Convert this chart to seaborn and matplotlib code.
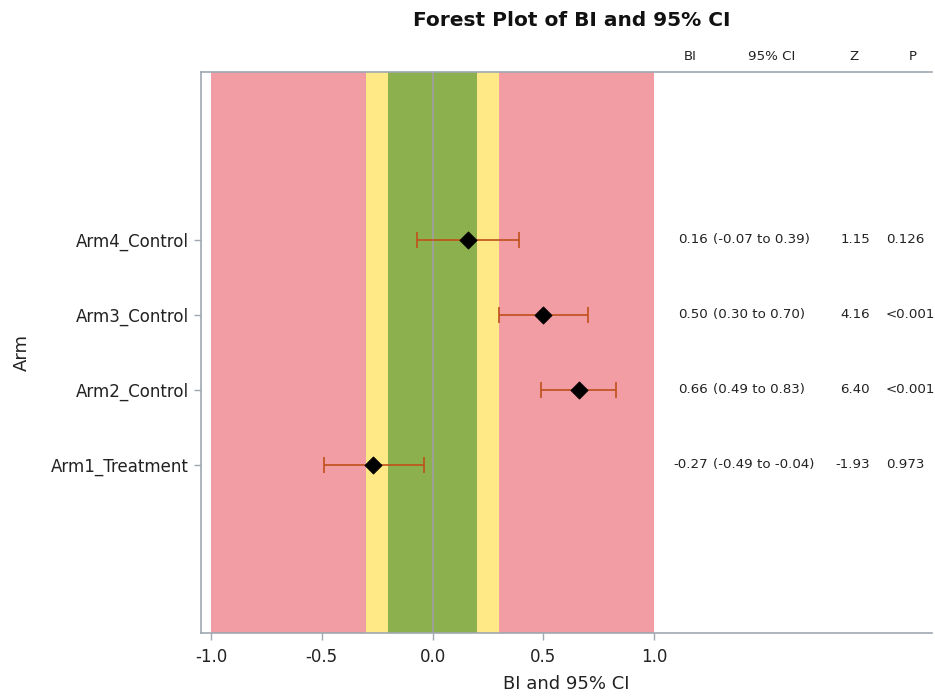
import matplotlib
matplotlib.use("Agg")
import matplotlib.pyplot as plt
import seaborn as sns
import pandas as pd

arms = ["Arm1_Treatment", "Arm2_Control", "Arm3_Control", "Arm4_Control"]
bi = [-0.27, 0.66, 0.50, 0.16]
ci_low = [-0.49, 0.49, 0.30, -0.07]
ci_high = [-0.04, 0.83, 0.70, 0.39]
z_vals = [-1.93, 6.40, 4.16, 1.15]
p_vals = ["0.973", "<0.001", "<0.001", "0.126"]
x_ticks = [-1.0, -0.5, 0.0, 0.5, 1.0]
headers = ["BI", "95% CI", "Z", "P"]

sns.set_style("white")
plt.rcParams['font.family'] = ['DejaVu Sans']

df = pd.DataFrame({"Arm": arms, "BI": bi, "lo": ci_low, "hi": ci_high,
                   "Z": z_vals, "P": p_vals})
df["ypos"] = range(1, len(arms) + 1)

fig = plt.figure(figsize=(9.35, 6.97), dpi=100)
ax = fig.add_axes([0.215, 0.0918, 0.782, 0.805])

# background bands
ax.axvspan(-1.0, 1.0, color="#F29CA4", lw=0, zorder=0)
ax.axvspan(-0.3, 0.3, color="#FFE987", lw=0, zorder=0.5)
ax.axvspan(-0.2, 0.2, color="#8BB04D", lw=0, zorder=0.6)
ax.axvline(0, color="#A0A0A0", lw=1.3, zorder=1)

ax.errorbar(df["BI"], df["ypos"],
            xerr=[df["BI"] - df["lo"], df["hi"] - df["BI"]],
            fmt="none", ecolor="#C0501A", elinewidth=1.2, capsize=5.5,
            capthick=1.2, zorder=2)
sns.scatterplot(data=df, x="BI", y="ypos", marker="D", color="black",
                s=75, edgecolor="black", ax=ax, zorder=3)

# statistics columns
fs = 9.6
tc = "#222222"
for _, r in df.iterrows():
    ax.text(1.244, r["ypos"], f"{r['BI']:.2f}", ha="right", va="center", fontsize=fs, color=tc)
    ax.text(1.266, r["ypos"], f"({r['lo']:.2f} to {r['hi']:.2f})", ha="left", va="center", fontsize=fs, color=tc)
    ax.text(1.975, r["ypos"], f"{r['Z']:.2f}", ha="right", va="center", fontsize=fs, color=tc)
    ax.text(2.047, r["ypos"], r["P"], ha="left", va="center", fontsize=fs, color=tc)

trans = ax.get_xaxis_transform()
for hx, h in zip([1.163, 1.532, 1.903, 2.165], headers):
    ax.text(hx, 1.027, h, ha="center", va="center", fontsize=fs, color=tc,
            transform=trans, clip_on=False)

ax.set_xlim(-1.045, 2.255)
ax.set_ylim(-1.24, 6.24)
ax.set_xticks(x_ticks)
ax.set_xticklabels([f"{v:.1f}" for v in x_ticks], fontsize=12, color=tc)
ax.set_yticks(df["ypos"])
ax.set_yticklabels(df["Arm"], fontsize=12, color=tc)
ax.tick_params(axis="both", direction="out", length=5, width=1, color="#A0A8B0", pad=4)
ax.tick_params(axis="x", bottom=True, pad=6)
ax.tick_params(axis="y", left=True, pad=4)
ax.set_xlabel("BI and 95% CI", fontsize=13, color=tc, labelpad=6)
ax.set_ylabel("Arm", fontsize=13, color=tc, labelpad=14)

for side in ["left", "top", "bottom"]:
    ax.spines[side].set_visible(True)
    ax.spines[side].set_color("#A0A8B0")
    ax.spines[side].set_linewidth(1.2)
ax.spines["right"].set_visible(False)

fig.text(0.612, 0.970, "Forest Plot of BI and 95% CI", ha="center", va="center",
         fontsize=14.5, fontweight="bold", color="#111111")

fig.savefig("out.png", dpi=100)
